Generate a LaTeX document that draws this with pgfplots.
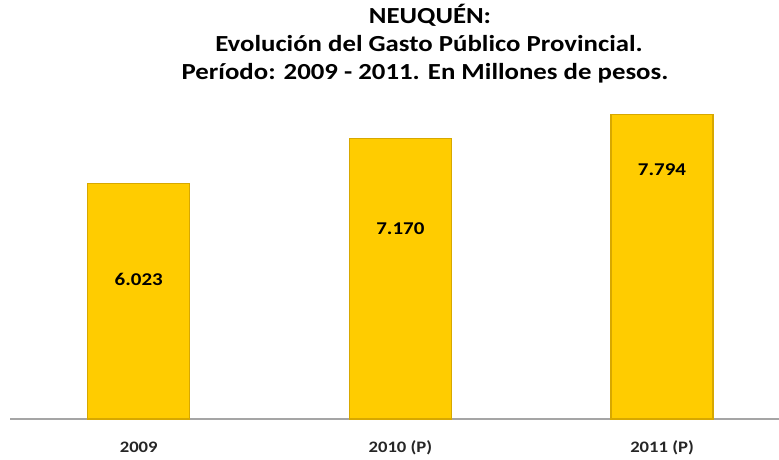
\documentclass[border=0pt]{standalone}
\usepackage{fontspec}
\setmainfont[FakeStretch=1.165]{Carlito}
\usepackage{pgfplots}
\pgfplotsset{compat=1.18}
\definecolor{barfill}{RGB}{255,204,0}
\definecolor{baredge}{RGB}{215,168,0}
\definecolor{axisgray}{RGB}{165,165,165}
\begin{document}
\begin{tikzpicture}[x=1pt,y=1pt]
\path[use as bounding box] (0,0) rectangle (779,459);
% title
\node[anchor=base, font=\fontsize{23}{27}\selectfont\bfseries] at (430,435) {NEUQUÉN:};
\node[anchor=base, font=\fontsize{23}{27}\selectfont\bfseries] at (429,407) {Evolución del Gasto Público Provincial.};
\node[anchor=base, font=\fontsize{23}{27}\selectfont\bfseries] at (425,379) {Período: 2009 - 2011. En Millones de pesos.};
\begin{axis}[
  at={(10pt,40pt)}, anchor=south west,
  scale only axis, width=769pt, height=319pt,
  ybar, bar width=102pt,
  xmin=-0.492, xmax=2.447, ymin=0, ymax=8160,
  axis y line=none, axis x line*=bottom,
  x axis line style={axisgray, line width=1.8pt, -},
  xtick=data, xticklabels={2009, 2010 (P), 2011 (P)},
  major tick length=0pt,
  xticklabel style={font=\fontsize{16}{18}\selectfont\bfseries, text=black!85, anchor=base, yshift=-33pt},
  clip=false,
]
\addplot[fill=barfill, draw=baredge, line width=1.5pt] coordinates {(0,6023) (1,7170) (2,7794)};
\node[font=\fontsize{18}{20}\selectfont\bfseries] at (axis cs:0,3560) {6.023};
\node[font=\fontsize{18}{20}\selectfont\bfseries] at (axis cs:1,4870) {7.170};
\node[font=\fontsize{18}{20}\selectfont\bfseries] at (axis cs:2,6385) {7.794};
\end{axis}
\end{tikzpicture}
\end{document}
